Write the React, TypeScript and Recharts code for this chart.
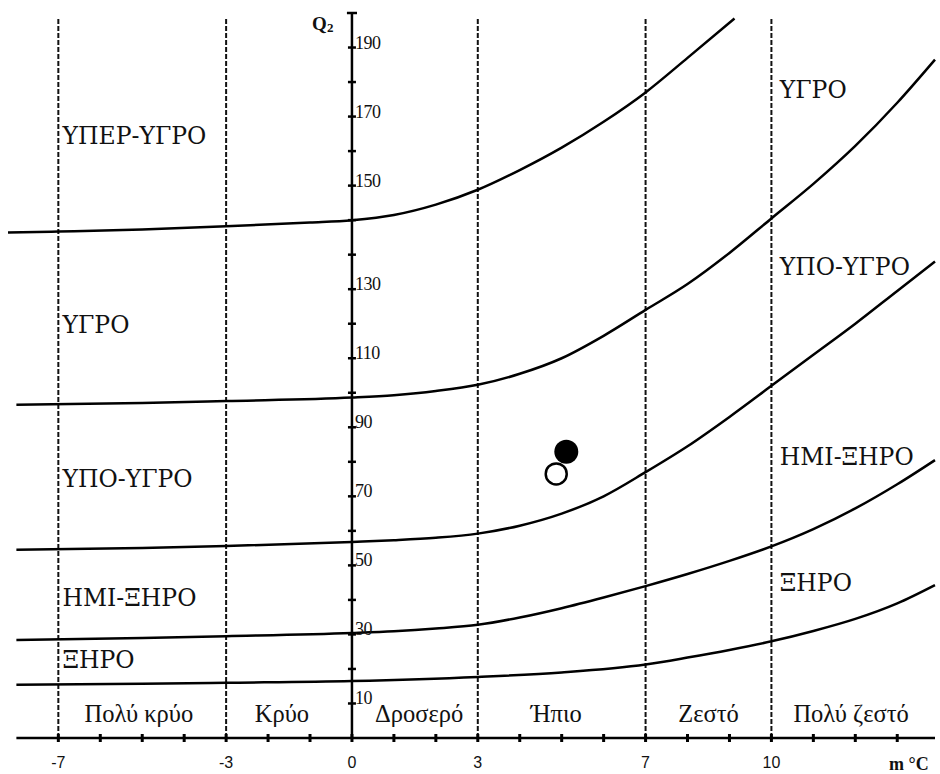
import React from "react";
import { ComposedChart, Line, Scatter, XAxis, YAxis, ReferenceLine } from "recharts";

// boundary curves of the climagram: [m °C, Q2]
const perHumidLine = [[-8.2, 146.4], [-7, 146.7], [-5, 147.3], [-3, 148.2], [-1, 149.3], [0, 150], [1, 151.5], [2, 154.5], [3, 158.8], [4, 164.5], [5, 171], [6, 178.5], [7, 187], [8, 197], [9.12, 208.4]];
const humidLine = [[-8, 96.5], [-5, 97], [-3, 97.6], [0, 98.6], [1, 99.3], [2, 100.5], [3, 102.3], [4, 105.5], [5, 110], [6, 116.5], [7, 124], [8, 131.5], [9, 140.5], [10, 150.5], [11, 160.5], [12, 171.5], [13, 184], [13.9, 196.5]];
const subHumidLine = [[-8, 54.5], [-5, 55], [-3, 55.6], [0, 56.8], [1, 57.3], [2, 58], [3, 59.2], [4, 61.5], [5, 65], [6, 70], [7, 77], [8, 84.5], [9, 93], [10, 102], [11, 111], [12, 120], [13, 129.5], [13.9, 138]];
const semiAridLine = [[-8, 28.4], [-5, 29], [-3, 29.5], [0, 30.4], [1, 30.9], [2, 31.7], [3, 32.8], [4, 34.9], [5, 37.6], [6, 40.7], [7, 44], [8, 47.5], [9, 51.3], [10, 55.5], [11, 60.5], [12, 66.5], [13, 73.5], [13.9, 80.5]];
const aridLine = [[-8, 15.4], [-5, 15.7], [-3, 16], [0, 16.5], [3, 17.7], [5, 19], [7, 21.3], [8, 23.3], [9, 25.5], [10, 28], [11, 31], [12, 34.5], [13, 39], [13.9, 44.3]];

// the two stations
const stationFilled = [[5.11, 82.9]];
const stationOpen = [[4.87, 76.5]];

// axes
const xTicks = [-7, -6, -5, -4, -3, -2, -1, 0, 1, 2, 3, 4, 5, 6, 7, 8, 9, 10, 11, 12, 13];
const xLabeled = [-7, -3, 0, 3, 7, 10];
const yTicks = [10, 20, 30, 40, 50, 60, 70, 80, 90, 100, 110, 120, 130, 140, 150, 160, 170, 180, 190, 200];
const yTickLabels = ["10", "", "30", "", "50", "", "70", "", "90", "", "110", "", "130", "", "", "150", "", "170", "", "190"];
const classBounds = [-7, -3, 3, 7, 10];

// names of the zones
const leftZones = ["ΥΠΕΡ-ΥΓΡΟ", "ΥΓΡΟ", "ΥΠΟ-ΥΓΡΟ", "ΗΜΙ-ΞΗΡΟ", "ΞΗΡΟ"];
const leftZoneQ = [174.5, 119.7, 75, 40.6, 22.6];
const rightZones = ["ΥΓΡΟ", "ΥΠΟ-ΥΓΡΟ", "ΗΜΙ-ΞΗΡΟ", "ΞΗΡΟ"];
const rightZoneQ = [187.8, 136.5, 81.4, 44.9];
const tempClasses = ["Πολύ κρύο", "Κρύο", "Δροσερό", "Ήπιο", "Ζεστό", "Πολύ ζεστό"];
const tempClassM = [-5.08, -1.67, 1.6, 4.87, 8.5, 11.9];

const toPts = (arr: number[][]) => arr.map(([m, q]) => ({ m, q }));

const serif = "'Liberation Serif', 'Times New Roman', serif";
const slab = "'DejaVu Serif', serif";
const sans = "'Liberation Sans', Arial, sans-serif";

const zoneLabels = [
  ...leftZones.map((text, i) => ({ m: -6.9, q: leftZoneQ[i], text, kind: "zone" })),
  ...rightZones.map((text, i) => ({ m: 10.2, q: rightZoneQ[i], text, kind: "zone" })),
  ...tempClasses.map((text, i) => ({ m: tempClassM[i], q: 7.2, text, kind: "temp" })),
];

const ZoneText = (p: any) => {
  const d = p.payload;
  if (d.kind === "temp") {
    return (
      <text x={p.cx} y={p.cy} textAnchor="middle" dominantBaseline="central" fontFamily={serif} fontSize={24.5} fill="#111">
        {d.text}
      </text>
    );
  }
  return (
    <text x={p.cx} y={p.cy} textAnchor="start" dominantBaseline="central" fontFamily={slab} fontSize={23.5} fill="#111">
      {d.text}
    </text>
  );
};

const XTick = (p: any) => {
  const m = p.payload.m;
  return (
    <g>
      <line x1={p.cx} y1={p.cy - 4} x2={p.cx} y2={p.cy + 4} stroke="#000" strokeWidth={3} />
      {xLabeled.includes(m) && (
        <text x={p.cx} y={p.cy + 24} textAnchor="middle" dominantBaseline="central" fontFamily={sans} fontSize={16} fill="#111">
          {m}
        </text>
      )}
    </g>
  );
};

const YTick = (p: any) => {
  const label = p.payload.label;
  return (
    <g>
      <line x1={p.cx - 4} y1={p.cy} x2={p.cx + 4} y2={p.cy} stroke="#000" strokeWidth={2.5} />
      {label && (
        <text x={p.cx + 3} y={p.cy - 5} textAnchor="start" dominantBaseline="central" fontFamily={serif} fontSize={18} fill="#111" letterSpacing={-0.5}>
          {label}
        </text>
      )}
    </g>
  );
};

const FilledDot = (p: any) => <circle cx={p.cx} cy={p.cy} r={12} fill="#000" />;
const OpenDot = (p: any) => <circle cx={p.cx} cy={p.cy} r={10.5} fill="#fff" stroke="#000" strokeWidth={2.5} />;

const AxisTitles = (p: any) => {
  const d = p.payload;
  if (d.kind === "q2") {
    return (
      <text x={p.cx} y={p.cy} fontFamily={serif} fontWeight="bold" fontSize={19} fill="#111" dominantBaseline="central">
        Q<tspan fontSize={13} dy={4}>2</tspan>
      </text>
    );
  }
  return (
    <text x={p.cx} y={p.cy + 26} textAnchor="end" fontFamily={serif} fontWeight="bold" fontSize={18} fill="#111" dominantBaseline="central">
      m °C
    </text>
  );
};

const curves = [perHumidLine, humidLine, subHumidLine, semiAridLine, aridLine];

export default function App() {
  return (
    <div style={{ position: "absolute", left: 0, top: 0, width: 940, height: 774, background: "#fff" }}>
      <ComposedChart width={940} height={774} margin={{ top: 13, right: 5, left: 8, bottom: 36 }}>
        <XAxis dataKey="m" type="number" domain={[-8.2, 13.9]} hide />
        <YAxis dataKey="q" type="number" domain={[0, 210]} hide />

        {classBounds.map((m) => (
          <ReferenceLine
            key={m}
            segment={[{ x: m, y: 0 }, { x: m, y: 208.5 }]}
            stroke="#111"
            strokeWidth={2}
            strokeDasharray="5 2"
          />
        ))}

        <ReferenceLine segment={[{ x: -8, y: 0 }, { x: 13.9, y: 0 }]} stroke="#000" strokeWidth={2.5} />
        <ReferenceLine segment={[{ x: 0, y: 0 }, { x: 0, y: 210 }]} stroke="#000" strokeWidth={2.5} />
        <ReferenceLine segment={[{ x: -0.12, y: 210 }, { x: 0.12, y: 210 }]} stroke="#000" strokeWidth={2.5} />

        {curves.map((c, i) => (
          <Line
            key={i}
            data={toPts(c)}
            dataKey="q"
            type="monotone"
            stroke="#000"
            strokeWidth={2.5}
            dot={false}
            activeDot={false}
            isAnimationActive={false}
          />
        ))}

        <Scatter data={xTicks.map((m) => ({ m, q: 0 }))} dataKey="q" shape={XTick} isAnimationActive={false} />
        <Scatter data={yTicks.map((q, i) => ({ m: 0, q, label: yTickLabels[i] }))} dataKey="q" shape={YTick} isAnimationActive={false} />
        <Scatter data={zoneLabels} dataKey="q" shape={ZoneText} isAnimationActive={false} />
        <Scatter
          data={[{ m: -0.95, q: 207, kind: "q2" }, { m: 13.75, q: 0, kind: "unit" }]}
          dataKey="q"
          shape={AxisTitles}
          isAnimationActive={false}
        />
        <Scatter data={toPts(stationFilled)} dataKey="q" shape={FilledDot} isAnimationActive={false} />
        <Scatter data={toPts(stationOpen)} dataKey="q" shape={OpenDot} isAnimationActive={false} />
      </ComposedChart>
    </div>
  );
}
